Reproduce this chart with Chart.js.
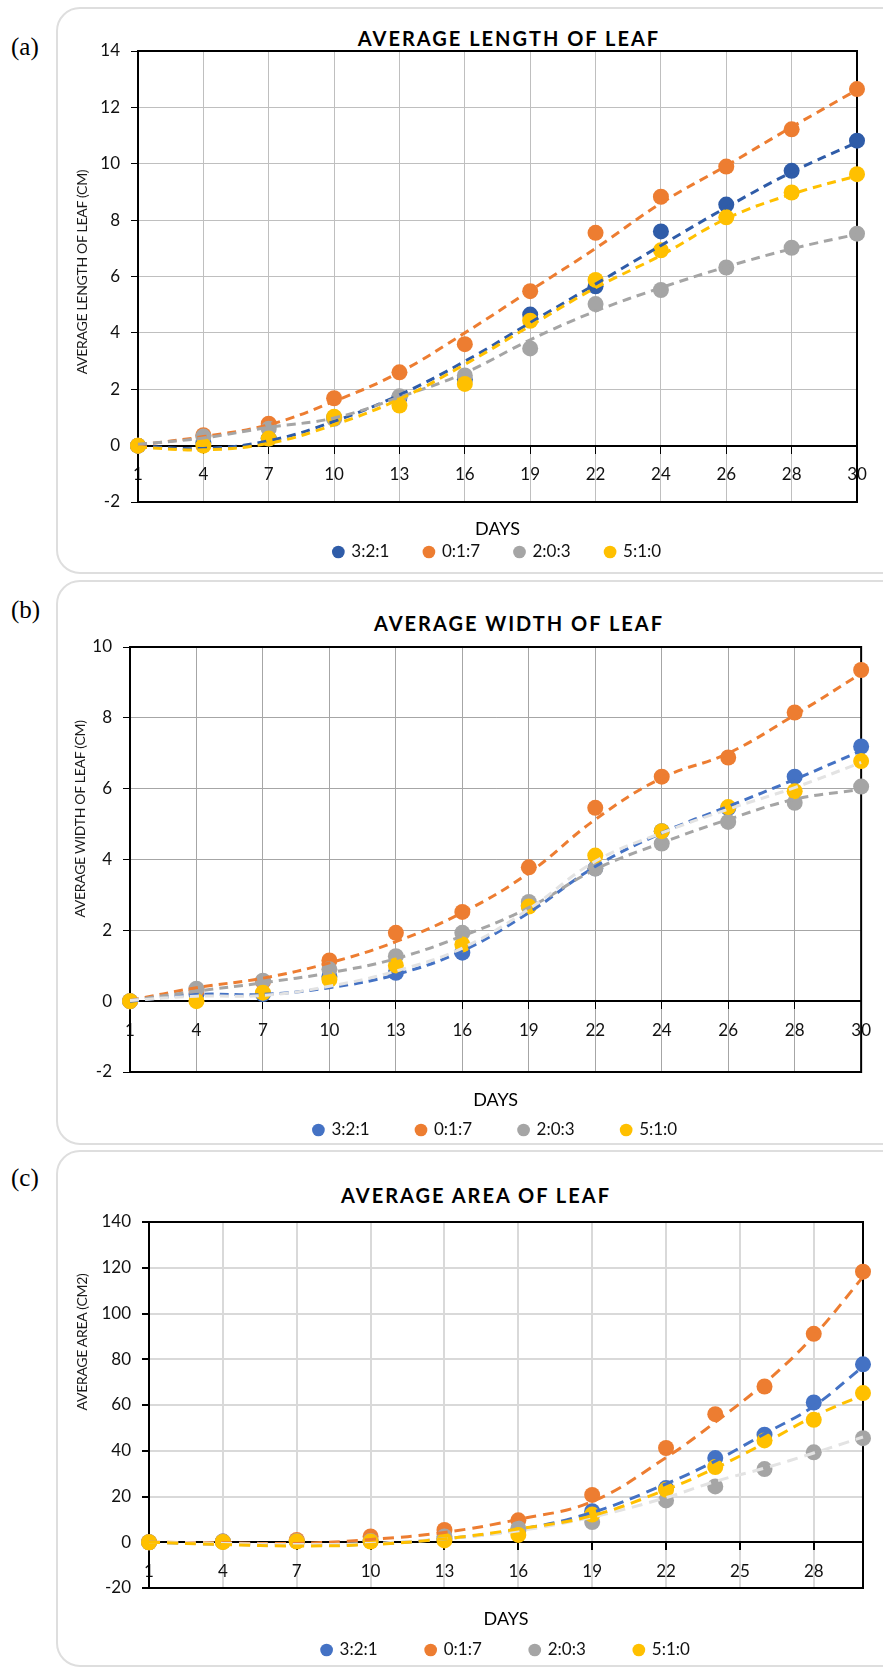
<!DOCTYPE html>
<html>
<head>
<meta charset="utf-8">
<title>Average leaf growth</title>
<script src="https://cdn.jsdelivr.net/npm/chart.js@4.4.1/dist/chart.umd.min.js"></script>
<style>
  html, body { margin: 0; padding: 0; background: #fff; overflow: hidden; }
  body { width: 883px; height: 1676px; position: relative; }
  .card { position: absolute; left: 56px; width: 880px; border: 2px solid #dedede; border-radius: 24px; box-sizing: border-box; }
  .tag { position: absolute; left: 11px; font: 25px 'Liberation Serif', 'DejaVu Serif', serif; line-height: 28px; color: #000; }
  .title { position: absolute; width: 400px; text-align: center; font: bold 20px Lato, sans-serif; letter-spacing: 2px; line-height: 24px; color: #000; }
  .ytitle { position: absolute; transform: translate(-50%, -50%) rotate(-90deg); white-space: nowrap; font: 14px Lato, sans-serif; letter-spacing: -0.3px; line-height: 18px; color: #1a1a1a; z-index: 2; }
  canvas { position: absolute; left: 0; }
</style>
</head>
<body>
<div class="card" style="top:7px;height:567px"></div>
<div class="card" style="top:580px;height:565px"></div>
<div class="card" style="top:1150px;height:517px"></div>

<div class="tag" style="top:33px">(a)</div>
<div class="tag" style="top:596px">(b)</div>
<div class="tag" style="top:1164px">(c)</div>

<div class="title" style="left:309px;top:26px">AVERAGE LENGTH OF LEAF</div>
<div class="title" style="left:319px;top:611px">AVERAGE WIDTH OF LEAF</div>
<div class="title" style="left:276px;top:1183px">AVERAGE AREA OF LEAF</div>

<div class="ytitle" style="left:82px;top:272px">AVERAGE LENGTH OF LEAF (CM)</div>
<div class="ytitle" style="left:80px;top:819px">AVERAGE WIDTH OF LEAF (CM)</div>
<div class="ytitle" style="left:82px;top:1342px">AVERAGE AREA (CM2)</div>

<canvas id="lengthChart" width="883" height="578" style="top:0px"></canvas>
<canvas id="widthChart" width="883" height="571" style="top:578px"></canvas>
<canvas id="areaChart" width="883" height="528" style="top:1148px"></canvas>

<script>
// days of measurement and series names
const days = [1, 4, 7, 10, 13, 16, 19, 22, 24, 26, 28, 30];
const areaTicks = [1, 4, 7, 10, 13, 16, 19, 22, 25, 28];
const seriesNames = ['3:2:1', '0:1:7', '2:0:3', '5:1:0'];

// (a) average length of leaf (cm)
const lengthBlue   = [0, 0.1, 0.25, 1.0, 1.7, 2.35, 4.65, 5.65, 7.6, 8.55, 9.75, 10.82];
const lengthOrange = [0, 0.37, 0.78, 1.68, 2.6, 3.6, 5.48, 7.55, 8.83, 9.9, 11.22, 12.65];
const lengthGray   = [0, 0.32, 0.6, 0.95, 1.75, 2.49, 3.45, 5.02, 5.52, 6.32, 7.02, 7.52];
const lengthYellow = [0, 0, 0.25, 1.02, 1.42, 2.19, 4.43, 5.88, 6.93, 8.1, 8.98, 9.63];
// trend lines
const lengthBlueTrend   = [0, -0.1, 0.17, 0.86, 1.8, 2.99, 4.36, 5.73, 7.1, 8.45, 9.7, 10.76];
const lengthOrangeTrend = [0.02, 0.32, 0.74, 1.57, 2.6, 4.0, 5.5, 7.0, 8.6, 9.93, 11.3, 12.62];
const lengthGrayTrend   = [0.05, 0.27, 0.65, 0.98, 1.72, 2.58, 3.75, 4.77, 5.6, 6.34, 6.98, 7.5];
const lengthYellowTrend = [-0.05, -0.15, 0.08, 0.74, 1.65, 2.88, 4.25, 5.6, 6.75, 8.05, 8.92, 9.57];

// (b) average width of leaf (cm)
const widthBlue   = [0, 0.2, 0.2, 0.7, 0.8, 1.37, 2.7, 3.75, 4.8, 5.45, 6.34, 7.19];
const widthOrange = [0, 0.3, 0.55, 1.15, 1.93, 2.52, 3.78, 5.46, 6.34, 6.88, 8.15, 9.35];
const widthGray   = [0, 0.35, 0.58, 0.9, 1.27, 1.93, 2.8, 3.74, 4.45, 5.06, 5.6, 6.06];
const widthYellow = [0, 0, 0.24, 0.61, 1.01, 1.6, 2.67, 4.11, 4.8, 5.48, 5.93, 6.78];
const widthBlueTrend   = [0, 0.19, 0.19, 0.38, 0.75, 1.42, 2.5, 3.8, 4.75, 5.5, 6.26, 7.07];
const widthOrangeTrend = [0.02, 0.38, 0.65, 1.08, 1.68, 2.5, 3.62, 5.13, 6.3, 7.0, 8.08, 9.25];
const widthGrayTrend   = [0.02, 0.28, 0.52, 0.8, 1.2, 1.84, 2.64, 3.72, 4.47, 5.13, 5.7, 5.98];
const widthYellowTrend = [0.02, 0.14, 0.16, 0.42, 0.85, 1.5, 2.6, 3.95, 4.75, 5.42, 6.03, 6.74];

// (c) average area of leaf (cm2)
const areaBlue   = [0, 0.3, 0.5, 0.8, 1.5, 5.0, 13.6, 23.7, 36.8, 47.0, 61.1, 77.8];
const areaOrange = [0, 0.3, 1.0, 2.5, 5.4, 9.6, 20.7, 41.2, 56.0, 68.1, 91.1, 118.3];
const areaGray   = [0, 0.3, 0.5, 0.6, 2.5, 6.0, 8.8, 18.3, 24.4, 32.0, 39.3, 45.5];
const areaYellow = [0, 0.1, 0.3, 0.3, 0.8, 3.2, 12.1, 23.0, 32.9, 44.5, 53.5, 65.2];
const areaBlueTrend   = [0, -0.8, -1.4, -0.8, 1.5, 5.5, 13.0, 25.5, 35.5, 47.4, 59.5, 76.8];
const areaOrangeTrend = [0, -0.2, -0.5, 1.2, 4.3, 10.0, 17.8, 37.0, 52.5, 69.5, 90.2, 116];
const areaGrayTrend   = [0, -0.5, -1.0, -0.5, 1.5, 5.0, 11.0, 19.5, 26.6, 32.4, 39.0, 46.0];
const areaYellowTrend = [0, -1.0, -1.6, -1.0, 1.5, 5.8, 11.6, 23.0, 32.4, 43.3, 55.0, 64.4];

Chart.defaults.font.family = "Lato, 'Open Sans', sans-serif";
Chart.defaults.color = '#111';

// black frame round the plot area, like the excel chart
const framePlugin = {
    id: 'frame',
    beforeDatasetsDraw(chart) {
        const ctx = chart.ctx;
        const a = chart.chartArea;
        ctx.save();
        ctx.strokeStyle = '#000';
        ctx.lineWidth = 2;
        ctx.strokeRect(a.left, a.top, a.right - a.left, a.bottom - a.top);
        ctx.restore();
    }
};

function buildDatasets(points, trends, colors, trendColors, dash, xy) {
    var sets = [];
    var toData = function(vals) {
        return xy ? vals.map(function(v, k) { return {x: days[k], y: v}; }) : vals;
    };
    points.forEach(function(vals, i) {
        sets.push({
            label: seriesNames[i],
            data: toData(vals),
            showLine: false,
            pointRadius: 8,
            pointHoverRadius: 8,
            backgroundColor: colors[i],
            borderColor: colors[i],
            borderWidth: 0,
            pointBorderWidth: 0,
            order: 10 - i,
            clip: false
        });
    });
    trends.forEach(function(vals, i) {
        sets.push({
            label: seriesNames[i] + ' trend',
            data: toData(vals),
            pointRadius: 0,
            borderColor: trendColors[i],
            borderWidth: 3,
            borderDash: dash,
            tension: 0.4,
            fill: false,
            order: 5 - i,
            clip: false
        });
    });
    return sets;
}

function makeChart(id, o) {
    var xScale = {
        position: { y: 0 },
        grid: { color: o.grid, lineWidth: o.gridWidth, tickLength: 7, tickColor: '#000' },
        border: { color: '#000', width: 2 },
        ticks: { autoSkip: false, maxRotation: 0, padding: 12, color: '#111', font: { size: 17 } },
        title: { display: true, text: 'DAYS', color: '#000', font: { size: 18 }, padding: { top: o.daysPad, bottom: 0 } }
    };
    if (o.xy) {
        xScale.type = 'linear';
        xScale.min = 1;
        xScale.max = 30;
        xScale.afterBuildTicks = function(s) { s.ticks = areaTicks.map(function(v) { return {value: v}; }); };
    }
    return new Chart(document.getElementById(id), {
        type: 'line',
        data: o.xy ? { datasets: o.datasets } : { labels: days, datasets: o.datasets },
        options: {
            responsive: false,
            animation: false,
            devicePixelRatio: 1,
            layout: { padding: { top: o.top, right: o.right, bottom: o.bottom, left: 0 } },
            plugins: {
                tooltip: { enabled: false },
                legend: {
                    position: 'bottom',
                    fullSize: false,
                    // empty title only pushes the row down a little
                    title: { display: true, text: '', font: { size: 1 }, padding: { top: o.legendShift, bottom: 0 } },
                    labels: {
                        usePointStyle: true,
                        boxWidth: 9,
                        boxHeight: 9,
                        padding: o.legendPad,
                        color: '#111',
                        font: { size: 17 },
                        filter: function(item) { return item.datasetIndex < 4; },
                        sort: function(a, b) { return a.datasetIndex - b.datasetIndex; }
                    }
                }
            },
            scales: {
                x: xScale,
                y: {
                    min: o.min,
                    max: o.max,
                    ticks: { stepSize: o.step, padding: 11, color: '#111', font: { size: 17 } },
                    grid: { color: o.grid, lineWidth: o.gridWidth, tickLength: 7, tickColor: '#000' },
                    border: { color: '#000', width: 2 },
                    afterFit: function(s) { s.width = o.yWidth; }
                }
            }
        },
        plugins: [framePlugin]
    });
}

var colA = ['#2F5CA8', '#ED7D31', '#A5A5A5', '#FFC000'];
var colB = ['#4472C4', '#ED7D31', '#A5A5A5', '#FFC000'];

makeChart('lengthChart', {
    datasets: buildDatasets(
        [lengthBlue, lengthOrange, lengthGray, lengthYellow],
        [lengthBlueTrend, lengthOrangeTrend, lengthGrayTrend, lengthYellowTrend],
        colA, colA, [9, 6], false),
    top: 51, right: 26, bottom: 7.5, yWidth: 138, legendPad: 35, legendShift: 5.3, daysPad: 21,
    grid: '#BFBFBF', gridWidth: 1, min: -2, max: 14, step: 2
});

makeChart('widthChart', {
    datasets: buildDatasets(
        [widthBlue, widthOrange, widthGray, widthYellow],
        [widthBlueTrend, widthOrangeTrend, widthGrayTrend, widthYellowTrend],
        colB, ['#4472C4', '#ED7D31', '#A5A5A5', '#E3E3E3'], [9, 6], false),
    top: 69, right: 16, bottom: 0.5, yWidth: 130, legendPad: 47, legendShift: 1.3, daysPad: 37,
    grid: '#A6A6A6', gridWidth: 1, min: -2, max: 10, step: 2
});

makeChart('areaChart', {
    datasets: buildDatasets(
        [areaBlue, areaOrange, areaGray, areaYellow],
        [areaBlueTrend, areaOrangeTrend, areaGrayTrend, areaYellowTrend],
        colB, ['#4472C4', '#ED7D31', '#E3E3E3', '#FFC000'], [11, 7], true),
    xy: true,
    top: 74, right: 20, bottom: 7.5, yWidth: 149, legendPad: 48.5, legendShift: 3.8, daysPad: 15,
    grid: '#D9D9D9', gridWidth: 2, min: -20, max: 140, step: 20
});
</script>
</body>
</html>
